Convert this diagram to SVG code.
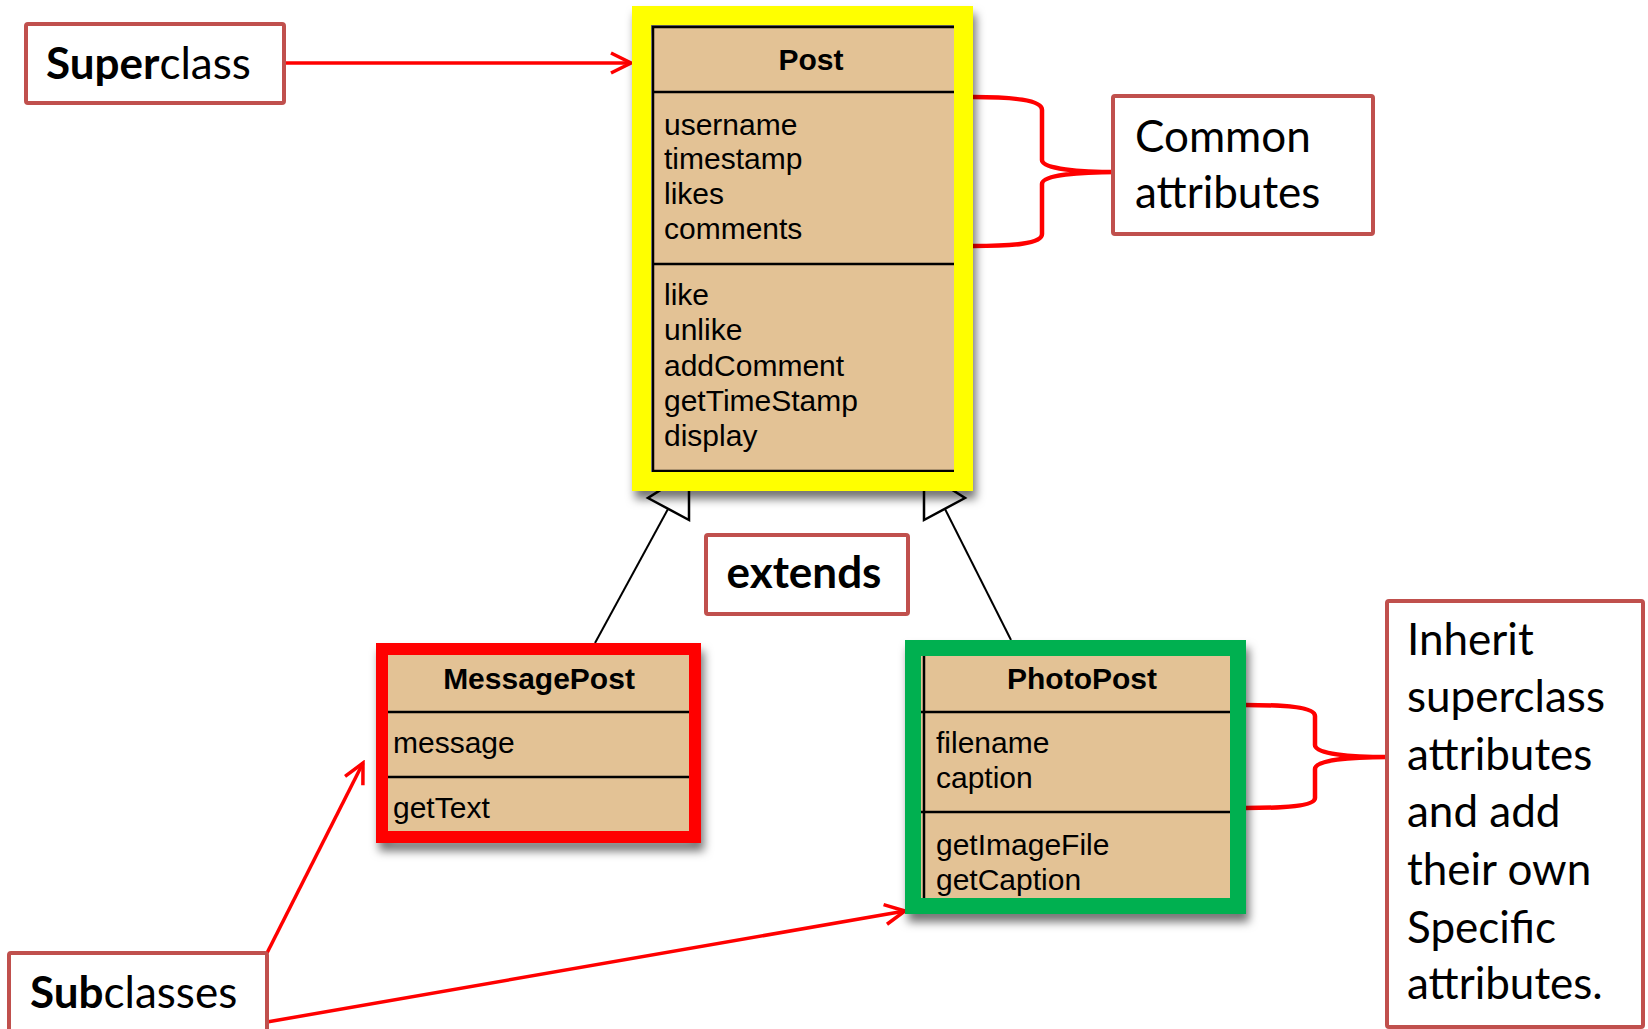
<svg xmlns="http://www.w3.org/2000/svg" width="1648" height="1029" viewBox="0 0 1648 1029">
<style>
.cls{font-family:"Liberation Sans",Arial,sans-serif;font-size:30px;fill:#000}
.ttl{font-weight:bold;text-anchor:middle}
.box{fill:#E3C295}
.div{stroke:#000;stroke-width:2.5}
.note{fill:#fff;stroke:#C0504D;stroke-width:4}
.nt{font-family:Lato,"Liberation Sans",sans-serif;font-size:44px;fill:#000}
.red{fill:none;stroke:#FF0000;stroke-width:3.5}
.brace{fill:none;stroke:#FF0000;stroke-width:4.5;stroke-linejoin:round}
.gen{fill:none;stroke:#000;stroke-width:2}
.tri{fill:#fff;stroke:#000;stroke-width:2.5;stroke-linejoin:miter}
.frame{fill:none;stroke-linejoin:miter}
</style>
<defs>
<marker id="open" markerUnits="userSpaceOnUse" viewBox="-3 -3 26 26" markerWidth="26" markerHeight="26" refX="20" refY="10" orient="auto">
<path d="M0,0 L20,10 L0,20" fill="none" stroke="#FF0000" stroke-width="3.5"/>
</marker>
<filter id="sh" x="-10%" y="-10%" width="130%" height="130%">
<feDropShadow dx="3" dy="8" stdDeviation="5" flood-color="#000" flood-opacity="0.55"/>
</filter>
</defs>
<rect x="0" y="0" width="1648" height="1029" fill="#fff"/>

<g id="connectors">
<line class="gen" x1="668" y1="509" x2="595" y2="643"/>
<polygon class="tri" points="689,472 648,498 689,520"/>
<line class="gen" x1="945" y1="509" x2="1011" y2="640"/>
<polygon class="tri" points="924,472 965,498 924,520"/>
<line class="red" x1="284" y1="63" x2="631" y2="63" marker-end="url(#open)"/>
<line class="red" x1="267" y1="953" x2="363" y2="763" marker-end="url(#open)"/>
<line class="red" x1="267" y1="1022" x2="905" y2="911" marker-end="url(#open)"/>
<path class="brace" d="M973,97 C1012,97 1042,100 1042,110 L1042,160 C1042,169 1080,172 1117,172 C1080,172 1042,175 1042,184 L1042,234 C1042,244 1012,246 973,246"/>
<path class="brace" d="M1245,705 C1285,705 1315,707 1315,716 L1315,745 C1315,754 1350,757 1388,757 C1350,757 1315,760 1315,769 L1315,798 C1315,806 1285,808 1245,808"/>
</g>

<g id="post">
<rect class="frame" x="641.5" y="15.5" width="322" height="466" stroke="#FFFF00" stroke-width="19" filter="url(#sh)"/>
<rect class="box" x="652" y="26" width="304" height="446"/>
<path d="M653,472 L653,27 L956,27 M653,471 L956,471" fill="none" stroke="#000" stroke-width="2.5"/>
<line class="div" x1="652" y1="92" x2="956" y2="92"/>
<line class="div" x1="652" y1="264" x2="956" y2="264"/>
<rect class="frame" x="641.5" y="15.5" width="322" height="466" stroke="#FFFF00" stroke-width="19"/>
<text class="cls ttl" x="811" y="70">Post</text>
<text class="cls" x="664" y="135">username</text>
<text class="cls" x="664" y="169">timestamp</text>
<text class="cls" x="664" y="204">likes</text>
<text class="cls" x="664" y="239">comments</text>
<text class="cls" x="664" y="305">like</text>
<text class="cls" x="664" y="340">unlike</text>
<text class="cls" x="664" y="376">addComment</text>
<text class="cls" x="664" y="411">getTimeStamp</text>
<text class="cls" x="664" y="446">display</text>
</g>

<g id="messagepost">
<rect class="frame" x="382" y="649" width="313" height="188" stroke="#FF0000" stroke-width="12" filter="url(#sh)"/>
<rect class="box" x="388" y="655" width="301" height="176"/>
<line class="div" x1="388" y1="712" x2="689" y2="712"/>
<line class="div" x1="388" y1="777" x2="689" y2="777"/>
<rect class="frame" x="382" y="649" width="313" height="188" stroke="#FF0000" stroke-width="12"/>
<text class="cls ttl" x="539" y="689">MessagePost</text>
<text class="cls" x="393" y="753">message</text>
<text class="cls" x="393" y="818">getText</text>
</g>

<g id="photopost">
<rect class="frame" x="913" y="648" width="325" height="258" stroke="#00B050" stroke-width="16" filter="url(#sh)"/>
<rect class="box" x="921" y="656" width="309" height="242"/>
<line x1="924" y1="656" x2="924" y2="898" stroke="#000" stroke-width="2.5"/>
<line class="div" x1="921" y1="712" x2="1230" y2="712"/>
<line class="div" x1="921" y1="812" x2="1230" y2="812"/>
<rect class="frame" x="913" y="648" width="325" height="258" stroke="#00B050" stroke-width="16"/>
<text class="cls ttl" x="1082" y="689">PhotoPost</text>
<text class="cls" x="936" y="753">filename</text>
<text class="cls" x="936" y="788">caption</text>
<text class="cls" x="936" y="855">getImageFile</text>
<text class="cls" x="936" y="890">getCaption</text>
</g>

<g id="superclass-note">
<rect class="note" x="26" y="24" width="258" height="79" rx="2"/>
<text class="nt" x="46" y="79"><tspan font-weight="bold">Super</tspan>class</text>
</g>

<g id="common-note">
<rect class="note" x="1113" y="96" width="260" height="138" rx="2"/>
<text class="nt" x="1135" y="152">Common</text>
<text class="nt" x="1135" y="208">attributes</text>
</g>

<g id="extends-note">
<rect class="note" x="706" y="535" width="202" height="79" rx="2"/>
<text class="nt" x="804" y="588" font-weight="bold" text-anchor="middle">extends</text>
</g>

<g id="subclasses-note">
<rect class="note" x="9" y="953" width="258" height="90" rx="2"/>
<text class="nt" x="30" y="1008"><tspan font-weight="bold">Sub</tspan>classes</text>
</g>

<g id="inherit-note">
<rect class="note" x="1387" y="601" width="256" height="426" rx="2"/>
<text class="nt" x="1407" y="655">Inherit</text>
<text class="nt" x="1407" y="712">superclass</text>
<text class="nt" x="1407" y="770">attributes</text>
<text class="nt" x="1407" y="827">and add</text>
<text class="nt" x="1407" y="885">their own</text>
<text class="nt" x="1407" y="943">Specific</text>
<text class="nt" x="1407" y="999">attributes.</text>
</g>
</svg>
